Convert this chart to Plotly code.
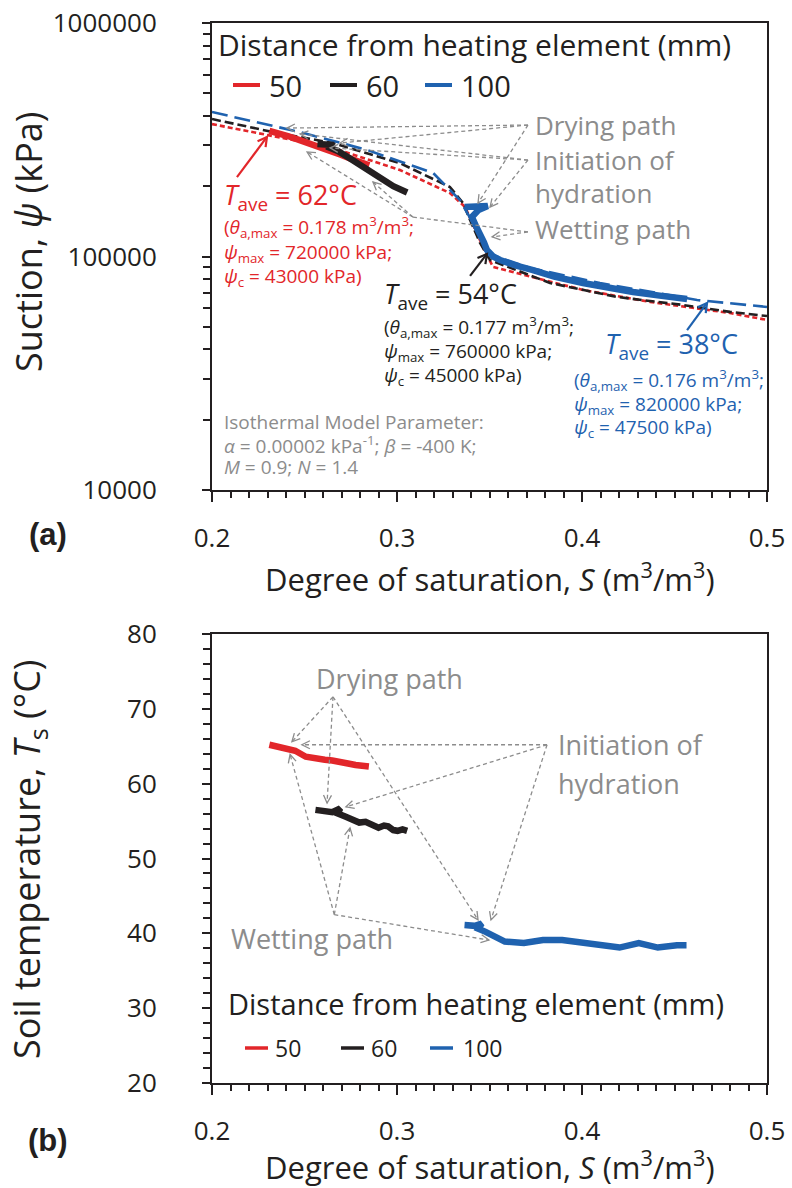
import numpy as np
import plotly.graph_objects as go

# ---------------- data : panel (a) suction vs saturation ----------------
S_a_50 = [0.231, 0.236, 0.241, 0.247, 0.253, 0.259, 0.264, 0.270, 0.275, 0.280, 0.285]
psi_a_50 = [345000, 338000, 328000, 316000, 305000, 293000, 285000, 272000, 262000, 255000, 246000]

S_a_60 = [0.257, 0.262, 0.266, 0.262, 0.268, 0.274, 0.280, 0.286, 0.292, 0.298, 0.3055]
psi_a_60 = [303000, 304000, 300000, 296000, 283000, 265000, 246000, 228000, 214000, 200000, 188000]

S_a_100 = [0.3365, 0.343, 0.349, 0.344, 0.3405, 0.3425, 0.3449, 0.3470, 0.3486, 0.352, 0.3557,
           0.364, 0.3735, 0.385, 0.4005, 0.414, 0.4276, 0.442, 0.4568]
psi_a_100 = [163000, 163000, 164500, 158000, 147600, 136000, 126100, 115000, 106600, 100000, 96600,
             91500, 87500, 82000, 77000, 73500, 70500, 68000, 65800]

# model curves
S_mod_50 = [0.2, 0.2297, 0.2654, 0.3016, 0.3286, 0.3368, 0.3405, 0.3465, 0.3519, 0.3649, 0.4005, 0.4368, 0.48, 0.5]
psi_mod_50 = [369000, 331000, 291700, 234600, 187000, 163000, 139200, 109800, 90200, 85000, 71900, 63900, 57300, 53500]

S_mod_60 = [0.2, 0.233, 0.2654, 0.3016, 0.3286, 0.3357, 0.3395, 0.3449, 0.3503, 0.3827, 0.4189, 0.4546, 0.48, 0.5]
psi_mod_60 = [388000, 341000, 306000, 251000, 198500, 169500, 143300, 114200, 96600, 77000, 67100, 62000, 57900, 55600]

S_mod_100 = [0.2, 0.2476, 0.2838, 0.3195, 0.334, 0.3395, 0.3449, 0.3514, 0.3719, 0.4097, 0.4622, 0.5]
psi_mod_100 = [415600, 341000, 286000, 228000, 174600, 146200, 120000, 101500, 89300, 77000, 65100, 60800]

# ---------------- data : panel (b) soil temperature vs saturation ----------------
S_b_50 = [0.2310, 0.2350, 0.2403, 0.2450, 0.2507, 0.2560, 0.2610, 0.2650, 0.2693, 0.2735, 0.2776, 0.2810, 0.2848]
T_b_50 = [65.2, 65.0, 64.8, 64.4, 63.6, 63.5, 63.2, 63.1, 63.0, 62.7, 62.5, 62.4, 62.3]

S_b_60 = [0.2559, 0.2600, 0.2650, 0.2693, 0.2680, 0.2720, 0.2755, 0.2796, 0.2830, 0.2858, 0.2900,
          0.2930, 0.2952, 0.2980, 0.3003, 0.3030, 0.3055]
T_b_60 = [56.5, 56.3, 56.2, 56.7, 56.0, 55.6, 55.2, 54.8, 54.9, 54.6, 54.1, 54.4, 54.3, 53.8, 53.7, 53.9, 53.7]

S_b_100 = [0.3365, 0.3420, 0.3458, 0.3440, 0.3479, 0.3521, 0.3583, 0.3686, 0.3789, 0.3893, 0.3996,
           0.4100, 0.4203, 0.4307, 0.4410, 0.4513, 0.4565]
T_b_100 = [41.1, 41.0, 41.3, 40.6, 40.2, 39.6, 38.9, 38.7, 39.1, 39.1, 38.7, 38.4, 38.1, 38.7, 38.1, 38.4, 38.4]

series_names = ["50", "60", "100"]
x_ticks = [0.2, 0.3, 0.4, 0.5]
x_ticktext = ["0.2", "0.3", "0.4", "0.5"]
ya_ticks = [1e4, 1e5, 1e6]
ya_ticktext = ["10000", "100000", "1000000"]
yb_ticks = [20, 30, 40, 50, 60, 70, 80]

# ---------------- styling ----------------
RED = "#E2262A"
BLACK = "#231F20"
BLUE = "#1F62AF"
GRAY = "#8C8C8C"
FONT = "Open Sans"
COLORS = [RED, BLACK, BLUE]
W, H = 792, 1188
XL, XR = 212, 767
A_TOP, A_BOT = 23, 490
B_TOP, B_BOT = 634, 1083

fig = go.Figure()

for S, P, col, dash in [(S_mod_50, psi_mod_50, RED, "5px,3px"),
                        (S_mod_60, psi_mod_60, BLACK, "9px,4px"),
                        (S_mod_100, psi_mod_100, BLUE, "16px,7px")]:
    fig.add_trace(go.Scatter(x=S, y=P, mode="lines", line=dict(color=col, width=2.6, dash=dash),
                             showlegend=False, hoverinfo="skip", xaxis="x", yaxis="y"))

for name, S, P, col in zip(series_names, [S_a_50, S_a_60, S_a_100], [psi_a_50, psi_a_60, psi_a_100], COLORS):
    fig.add_trace(go.Scatter(x=S, y=P, mode="lines", name=name, line=dict(color=col, width=6.5),
                             xaxis="x", yaxis="y", showlegend=False))

for name, S, T, col in zip(series_names, [S_b_50, S_b_60, S_b_100], [T_b_50, T_b_60, T_b_100], COLORS):
    fig.add_trace(go.Scatter(x=S, y=T, mode="lines", name=name, line=dict(color=col, width=6.5),
                             xaxis="x2", yaxis="y2", showlegend=False))

common = dict(showline=True, mirror=True, linecolor=BLACK, linewidth=2, ticks="outside",
              tickwidth=2, tickcolor=BLACK, showgrid=False, zeroline=False, automargin=False,
              tickfont=dict(family=FONT, size=26, color=BLACK))
xdom = [XL / W, XR / W]
ydom_a = [1 - A_BOT / H, 1 - A_TOP / H]
ydom_b = [1 - B_BOT / H, 1 - B_TOP / H]

minor_ticks_a = [m * 10 ** e for e in (4, 5) for m in range(2, 10)]
xminor = dict(dtick=0.01, tick0=0.2, ticks="outside", ticklen=6, tickwidth=1.5,
              tickcolor=BLACK, showgrid=False)

fig.update_layout(
    width=W, height=H, margin=dict(l=0, r=0, t=0, b=0), autosize=False,
    plot_bgcolor="white", paper_bgcolor="white", showlegend=False,
    xaxis=dict(**common, domain=xdom, anchor="y", range=[0.2, 0.5], tickmode="array",
               tickvals=x_ticks, ticktext=x_ticktext, ticklen=10, ticklabelstandoff=14,
               minor=xminor),
    yaxis=dict(**common, domain=ydom_a, anchor="x", type="log", range=[4, 6], tickmode="array",
               tickvals=ya_ticks, ticktext=ya_ticktext, ticklen=8, ticklabelstandoff=40,
               minor=dict(tickmode="array", tickvals=minor_ticks_a, ticks="outside", ticklen=7,
                          tickwidth=1.5, tickcolor=BLACK, showgrid=False)),
    xaxis2=dict(**common, domain=xdom, anchor="y2", range=[0.2, 0.5], tickmode="array",
                tickvals=x_ticks, ticktext=x_ticktext, ticklen=10, ticklabelstandoff=14,
                minor=xminor),
    yaxis2=dict(**common, domain=ydom_b, anchor="x2", range=[20, 80], tickmode="array",
                tickvals=yb_ticks, ticklen=8, ticklabelstandoff=40,
                minor=dict(dtick=2, tick0=20, ticks="outside", ticklen=7, tickwidth=1.5,
                           tickcolor=BLACK, showgrid=False)),
)

ann = []
shapes = []


def ptop(S, lp):
    return XL + (S - 0.2) * (XR - XL) / 0.3, A_TOP + (6 - lp) * (A_BOT - A_TOP) / 2


def pbot(S, T):
    return XL + (S - 0.2) * (XR - XL) / 0.3, B_BOT - (T - 20) * (B_BOT - B_TOP) / 60


def head_path(tx, ty, hx, hy, L, Wd, color, width):
    d = np.hypot(hx - tx, hy - ty)
    ux, uy = (hx - tx) / d, (hy - ty) / d
    nx, ny = -uy, ux
    p1 = (hx - ux * L + nx * Wd, hy - uy * L + ny * Wd)
    p2 = (hx - ux * L - nx * Wd, hy - uy * L - ny * Wd)
    to = lambda p: "%.5f,%.5f" % (p[0] / W, 1 - p[1] / H)
    shapes.append(dict(type="path", xref="paper", yref="paper",
                       path="M%s L%s L%s" % (to(p1), to((hx, hy)), to(p2)),
                       line=dict(color=color, width=width)))


def dashed_arrow(panel, tail, head):
    if panel == "a":
        xr, yr, f = "x", "y", ptop
        y0, y1 = 10 ** tail[1], 10 ** head[1]
    else:
        xr, yr, f = "x2", "y2", pbot
        y0, y1 = tail[1], head[1]
    shapes.append(dict(type="line", xref=xr, yref=yr, x0=tail[0], y0=y0, x1=head[0], y1=y1,
                       line=dict(color=GRAY, width=1.3, dash="4px,3px")))
    tx, ty = f(*tail)
    hx, hy = f(*head)
    head_path(tx, ty, hx, hy, 8, 4, GRAY, 1.3)


# ---- panel (a) annotation arrows (y in log10) ----
D_a, I_a, W_a, W2_a = (0.3708, 5.563), (0.3708, 5.413), (0.3708, 5.105), (0.3086, 5.169)
for h in [(0.2405, 5.550), (0.2692, 5.486), (0.3438, 5.229)]:
    dashed_arrow("a", D_a, h)
for h in [(0.2476, 5.525), (0.2638, 5.465), (0.3503, 5.212)]:
    dashed_arrow("a", I_a, h)
dashed_arrow("a", W_a, (0.3514, 5.084))
shapes.append(dict(type="line", xref="x", yref="y", x0=W_a[0], y0=10 ** W_a[1], x1=W2_a[0],
                   y1=10 ** W2_a[1], line=dict(color=GRAY, width=1.3, dash="4px,3px")))
for h in [(0.2514, 5.448), (0.287, 5.319)]:
    dashed_arrow("a", W2_a, h)

# ---- panel (b) annotation arrows ----
D_b, I_b, W_b = (0.2654, 71.6), (0.3811, 65.2), (0.2661, 42.5)
for h in [(0.2432, 65.6), (0.2622, 57.4), (0.3438, 41.8)]:
    dashed_arrow("b", D_b, h)
for h in [(0.2486, 65.2), (0.2724, 56.9), (0.3508, 41.8)]:
    dashed_arrow("b", I_b, h)
for h in [(0.2422, 63.9), (0.2746, 54.1), (0.3497, 39.1)]:
    dashed_arrow("b", W_b, h)


def txt(x, y, s, size, color, xr="x", yr="y", xanchor="left"):
    ann.append(dict(x=x, y=y, xref=xr, yref=yr, text=s, showarrow=False, xanchor=xanchor,
                    yanchor="middle", font=dict(family=FONT, size=size, color=color)))


# path labels
txt(0.3735, 5.563, "Drying path", 26, GRAY)
txt(0.3735, 5.413, "Initiation of", 26, GRAY)
txt(0.3735, 5.274, "hydration", 26, GRAY)
txt(0.3735, 5.118, "Wetting path", 26, GRAY)
txt(0.2957, 74.1, "Drying path", 27, GRAY, "x2", "y2", "center")
txt(0.386, 65.2, "Initiation of", 27, GRAY, "x2", "y2")
txt(0.386, 60.0, "hydration", 27, GRAY, "x2", "y2")
txt(0.2092, 39.3, "Wetting path", 27, GRAY, "x2", "y2")

# temperature labels
for (x0, y0, col, T, th, pm, pc, xs, ys) in [
        (0.2054, 5.259, RED, "62", "0.178", "720000", "43000", 0.2054, [5.126, 5.017, 4.912]),
        (0.2919, 4.835, BLACK, "54", "0.177", "760000", "45000", 0.2919, [4.698, 4.590, 4.487]),
        (0.4114, 4.621, BLUE, "38", "0.176", "820000", "47500", 0.3946, [4.471, 4.366, 4.266])]:
    txt(x0, y0, "<i>T</i><sub>ave</sub> = %s°C" % T, 27, col)
    txt(xs, ys[0], "(<i>θ</i><sub>a,max</sub> = %s m<sup>3</sup>/m<sup>3</sup>;" % th, 19, col)
    txt(xs, ys[1], "<i>ψ</i><sub>max</sub> = %s kPa;" % pm, 19, col)
    txt(xs, ys[2], "<i>ψ</i><sub>c</sub> = %s kPa)" % pc, 19, col)

for (tail, head, col) in [((0.2135, 5.340), (0.2297, 5.512), RED),
                          ((0.3395, 4.917), (0.3486, 5.011), BLACK),
                          ((0.4568, 4.685), (0.4676, 4.801), BLUE)]:
    shapes.append(dict(type="line", xref="x", yref="y", x0=tail[0], y0=10 ** tail[1],
                       x1=head[0], y1=10 ** head[1], line=dict(color=col, width=2.2)))
    tx, ty = ptop(*tail)
    hx, hy = ptop(*head)
    head_path(tx, ty, hx, hy, 9, 5, col, 2.2)

# isothermal model parameters
txt(0.2054, 4.291, "Isothermal Model Parameter:", 19, GRAY)
txt(0.2054, 4.193, "<i>α</i> = 0.00002 kPa<sup>-1</sup>; <i>β</i> = -400 K;", 19, GRAY)
txt(0.2054, 4.099, "<i>M</i> = 0.9; <i>N</i> = 1.4", 19, GRAY)


# axis titles and panel labels (paper coordinates)
def ptxt(xp, yp, s, size, angle=0, family=FONT, xanchor="center", color=BLACK):
    ann.append(dict(x=xp / W, y=1 - yp / H, xref="paper", yref="paper", text=s, showarrow=False,
                    xanchor=xanchor, yanchor="middle", textangle=angle,
                    font=dict(family=family, size=size, color=color)))


ptxt(490, 577, "Degree of saturation, <i>S</i> (m<sup>3</sup>/m<sup>3</sup>)", 31)
ptxt(490, 1165, "Degree of saturation, <i>S</i> (m<sup>3</sup>/m<sup>3</sup>)", 31)
ptxt(28, 242, "Suction, <i>ψ</i> (kPa)", 36, -90)
ptxt(28, 860, "Soil temperature, <i>T</i><sub>s</sub> (°C)", 36, -90)
ptxt(48, 535, "<b>(a)</b>", 31, family="Liberation Sans")
ptxt(48, 1140, "<b>(b)</b>", 31, family="Liberation Sans")


# manual legends: title, line samples and labels
def legend(x_title, y_title, title_size, y_items, items, item_size, lw):
    ptxt(x_title, y_title, "Distance from heating element (mm)", title_size, xanchor="left")
    for (x0, x1, xt), name, col in zip(items, series_names, COLORS):
        shapes.append(dict(type="line", xref="paper", yref="paper", x0=x0 / W, x1=x1 / W,
                           y0=1 - y_items / H, y1=1 - y_items / H, line=dict(color=col, width=lw)))
        ptxt(xt, y_items, name, item_size, xanchor="left")


legend(216, 45, 30, 85, [(233, 260, 267), (330, 357, 364), (425, 452, 459)], 29, 4)
legend(226, 1003, 29, 1048, [(245, 268, 273), (341, 364, 369), (430, 453, 461)], 23, 3.5)

fig.update_layout(annotations=ann, shapes=shapes)
fig.write_html("out.html")
